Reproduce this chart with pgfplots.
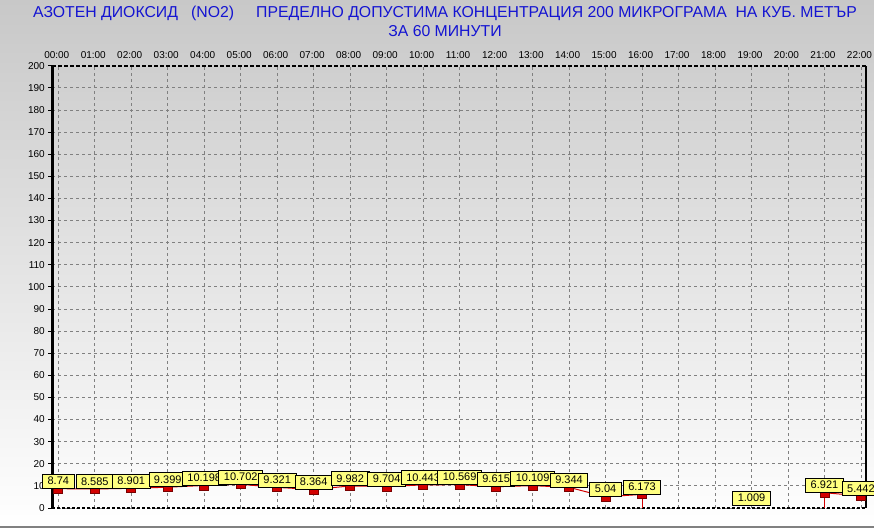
\documentclass[border=0pt]{standalone}
\usepackage{fontspec}
\setmainfont{Liberation Sans}
\usepackage{pgfplots}
\usepackage{pgfplotstable}
\pgfplotsset{compat=1.18}
\definecolor{ttl}{RGB}{20,20,210}
\definecolor{lbl}{RGB}{255,255,128}
\definecolor{ser}{RGB}{210,0,0}
\definecolor{serd}{RGB}{120,0,0}
\pgfplotstableread{
x y lab
0 8.74 8.74
1 8.585 8.585
2 8.901 8.901
3 9.399 9.399
4 10.198 10.198
5 10.702 10.702
6 9.321 9.321
7 8.364 8.364
8 9.982 9.982
9 9.704 9.704
10 10.443 10.443
11 10.569 10.569
12 9.615 9.615
13 10.109 10.109
14 9.344 9.344
15 5.04 5.04
16 6.173 6.173
}\dataA
\pgfplotstableread{
x y lab
21 6.921 6.921
22 5.442 5.442
}\dataB
\pgfplotstableread{
x y lab
19 1.009 1.009
}\dataC
\pgfplotsset{
  lblnodes/.style={
    nodes near coords,
    point meta=explicit symbolic,
    every node near coord/.style={anchor=south, draw=black, fill=lbl, line width=0.8pt, inner xsep=5pt, inner ysep=2.5pt, text height=8pt, text depth=1pt, font=\fontsize{11}{13}\selectfont, text=black},
  },
}
\begin{document}
\begin{tikzpicture}
\shade[top color={rgb,255:red,200;green,200;blue,200}, bottom color={rgb,255:red,255;green,255;blue,255}] (0pt,0pt) rectangle (874pt,529pt);
\draw[gray, line width=2pt] (0pt,2pt) -- (874pt,2pt);
\node[text=ttl, font=\fontsize{15.8}{18}\selectfont] at (445pt,516pt) {АЗОТЕН ДИОКСИД\ \ \ (NO2)\ \ \ \ \ ПРЕДЕЛНО ДОПУСТИМА КОНЦЕНТРАЦИЯ 200 МИКРОГРАМА\ \ НА КУБ. МЕТЪР};
\node[text=ttl, font=\fontsize{15.8}{18}\selectfont] at (445pt,498pt) {ЗА 60 МИНУТИ};
\begin{axis}[
  at={(52.3pt,21pt)}, anchor=south west, scale only axis,
  width=813.4pt, height=442.3pt,
  xmin=-0.164, xmax=22.13, ymin=0, ymax=200,
  ytick={0,10,...,200},
  xtick={0,...,22},
  xticklabels={00:00,01:00,02:00,03:00,04:00,05:00,06:00,07:00,08:00,09:00,10:00,11:00,12:00,13:00,14:00,15:00,16:00,17:00,18:00,19:00,20:00,21:00,22:00},
  xtick pos=right, ytick pos=left,
  xticklabel pos=right,
  tick align=outside,
  major tick length=4pt,
  x tick style={draw=none},
  y tick style={black, line width=0.8pt},
  /pgf/number format/assume math mode=true,
  ticklabel style={font=\fontsize{10}{12}\selectfont},
  xticklabel style={xshift=-1.5pt},
  axis line style={draw=none},
  grid=major,
  major grid style={gray, dash pattern=on 3pt off 3pt, line width=0.8pt},
  clip=false,
]
\draw[black, line width=3pt] (rel axis cs:0,0) -- (rel axis cs:0,1);
\draw[black, line width=2pt] (rel axis cs:1,0) -- (rel axis cs:1,1);
\draw[black, line width=2pt, dash pattern=on 4pt off 2pt] (rel axis cs:0,1) -- (rel axis cs:1,1);
\draw[black, line width=1.2pt, dash pattern=on 3pt off 2pt] (rel axis cs:0,0) -- (rel axis cs:1,0);
\addplot[ser, line width=1pt] coordinates {(16,6.173) (16,0)};
\addplot[ser, line width=1pt] coordinates {(21,0) (21,6.921)};
\addplot[ser, line width=1pt, mark=square*, mark size=4.5pt, mark options={fill=ser, draw=serd, line width=0.8pt}, lblnodes] table[x=x, y=y, meta=lab] {\dataA};
\addplot[ser, line width=1pt, mark=square*, mark size=4.5pt, mark options={fill=ser, draw=serd, line width=0.8pt}, lblnodes] table[x=x, y=y, meta=lab] {\dataB};
\addplot[draw=none, mark=none, lblnodes] table[x=x, y=y, meta=lab] {\dataC};
\end{axis}
\pgfresetboundingbox
\useasboundingbox (0pt,0pt) rectangle (874pt,529pt);
\end{tikzpicture}
\end{document}
